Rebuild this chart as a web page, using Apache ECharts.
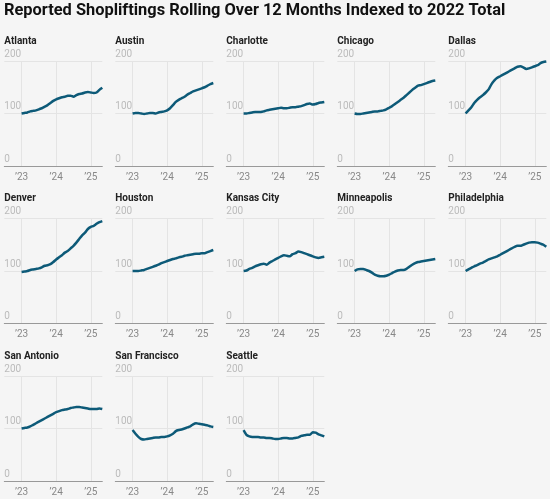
<!DOCTYPE html>
<html>
<head>
<meta charset="utf-8">
<script src="https://cdn.jsdelivr.net/npm/echarts@6/dist/echarts.min.js"></script>
<style>
  html, body { margin: 0; padding: 0; background: #f5f5f5; }
  #chart { width: 550px; height: 499px; }
</style>
</head>
<body>
<div id="chart"></div>
<script>
// months since Jan 2023 (Jan 2023 .. May 2025)
const months = [0, 1, 2, 3, 4, 5, 6, 7, 8, 9, 10, 11, 12, 13, 14, 15, 16, 17, 18, 19, 20, 21, 22, 23, 24, 25, 26, 27, 28];
const yearTicks = [0, 12, 24];
const yearLabels = ['’23', '’24', '’25'];

const cities = ['Atlanta', 'Austin', 'Charlotte', 'Chicago', 'Dallas', 'Denver', 'Houston', 'Kansas City',
    'Minneapolis', 'Philadelphia', 'San Antonio', 'San Francisco', 'Seattle'];

const atlanta = [100, 101, 102, 104, 105, 106, 108, 110, 113, 116, 120, 124, 127, 129, 131, 132, 134, 134, 132, 135, 137, 138, 140, 141, 140, 139, 140, 145, 149];
const austin = [100, 101, 101, 100, 99, 100, 101, 101, 100, 102, 103, 104, 106, 110, 116, 122, 126, 129, 132, 136, 139, 142, 144, 146, 148, 150, 153, 156, 158];
const charlotte = [100, 100, 101, 102, 103, 103, 103, 104, 106, 107, 108, 109, 110, 111, 110, 110, 111, 112, 112, 113, 114, 116, 118, 119, 117, 118, 120, 121, 122];
const chicago = [100, 99, 99, 100, 101, 102, 103, 104, 104, 105, 106, 108, 111, 114, 118, 122, 126, 130, 135, 140, 145, 149, 153, 154, 156, 158, 160, 162, 163];
const dallas = [100, 106, 112, 120, 126, 131, 135, 140, 146, 156, 163, 168, 171, 174, 177, 180, 183, 186, 189, 190, 188, 185, 186, 188, 190, 192, 196, 198, 199];
const denver = [98, 99, 100, 102, 103, 104, 105, 107, 110, 111, 113, 117, 122, 126, 130, 135, 138, 143, 148, 154, 161, 168, 173, 180, 184, 186, 190, 193, 195];
const houston = [100, 100, 100, 101, 102, 104, 106, 108, 110, 112, 115, 117, 119, 121, 123, 124, 126, 127, 129, 130, 131, 132, 133, 133, 134, 134, 136, 138, 140];
const kansasCity = [100, 101, 104, 106, 109, 111, 113, 114, 112, 116, 119, 122, 125, 128, 130, 129, 128, 132, 134, 137, 136, 134, 132, 130, 128, 126, 125, 126, 127];
const minneapolis = [100, 103, 104, 104, 102, 100, 97, 93, 91, 90, 90, 91, 93, 96, 99, 101, 102, 102, 104, 108, 112, 115, 117, 118, 119, 120, 121, 122, 123];
const philadelphia = [100, 103, 106, 109, 111, 114, 116, 119, 122, 124, 126, 128, 131, 134, 137, 140, 143, 146, 148, 148, 150, 152, 154, 155, 155, 154, 152, 150, 146];
const sanAntonio = [100, 101, 102, 104, 107, 110, 113, 116, 119, 122, 125, 128, 131, 133, 135, 136, 137, 139, 140, 141, 141, 140, 139, 138, 137, 137, 137, 138, 137];
const sanFrancisco = [97, 90, 84, 80, 79, 80, 81, 82, 83, 83, 84, 84, 85, 87, 90, 95, 97, 98, 100, 102, 104, 108, 110, 109, 108, 107, 106, 104, 103];
const seattle = [97, 88, 85, 84, 84, 84, 83, 83, 82, 82, 81, 80, 80, 81, 82, 82, 81, 81, 82, 83, 86, 87, 88, 88, 93, 92, 89, 87, 85];

const cityValues = [atlanta, austin, charlotte, chicago, dallas, denver, houston, kansasCity,
    minneapolis, philadelphia, sanAntonio, sanFrancisco, seattle];

const font = 'Roboto, "Noto Sans", sans-serif';
const lineColor = '#0d5a78';

const title = [{
    text: 'Reported Shopliftings Rolling Over 12 Months Indexed to 2022 Total',
    left: 4,
    top: 3,
    padding: 0,
    textStyle: { fontFamily: font, fontSize: 16.4, fontWeight: 'bold', color: '#111' },
}];
const grid = [];
const xAxis = [];
const yAxis = [];
const series = [];

cities.forEach((name, i) => {
    const col = i % 5;
    const row = Math.floor(i / 5);
    const left = 4.3 + 111 * col;
    const top = 61 + 157.5 * row;

    title.push({
        text: name,
        left: left,
        top: top - 25,
        padding: 0,
        textStyle: { fontFamily: font, fontSize: 10, fontWeight: 'bold', color: '#222' },
    });

    grid.push({ left: left, top: top, width: 98, height: 105 });

    xAxis.push({
        type: 'value',
        gridIndex: i,
        min: -6,
        max: 28,
        axisLine: { show: true, lineStyle: { color: '#999', width: 1 } },
        axisTick: { show: false, customValues: yearTicks },
        axisLabel: {
            customValues: yearTicks,
            formatter: (v) => yearLabels[yearTicks.indexOf(v)],
            color: '#888',
            fontFamily: font,
            fontSize: 10,
            margin: 6,
        },
        splitLine: { show: true, lineStyle: { color: '#e4e4e4', width: 1 } },
    });

    yAxis.push({
        type: 'value',
        gridIndex: i,
        min: 0,
        max: 200,
        interval: 100,
        axisLine: { show: false },
        axisTick: { show: false },
        axisLabel: {
            inside: true,
            margin: 0,
            verticalAlign: 'bottom',
            padding: [0, 0, 2, 0],
            color: '#bbb',
            fontFamily: font,
            fontSize: 10,
        },
        splitLine: { show: true, lineStyle: { color: '#e4e4e4', width: 1 } },
    });

    series.push({
        type: 'line',
        name: name,
        xAxisIndex: i,
        yAxisIndex: i,
        data: months.map((m, k) => [m, cityValues[i][k]]),
        showSymbol: false,
        smooth: 0.2,
        lineStyle: { color: lineColor, width: 2.5 },
        animation: false,
    });
});

const chart = echarts.init(document.getElementById('chart'));
chart.setOption({
    backgroundColor: '#f5f5f5',
    animation: false,
    title: title,
    grid: grid,
    xAxis: xAxis,
    yAxis: yAxis,
    series: series,
});
</script>
</body>
</html>
